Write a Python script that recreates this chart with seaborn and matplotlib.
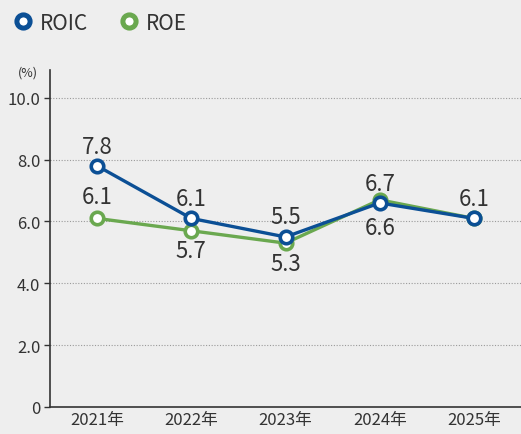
import matplotlib
matplotlib.use("Agg")
import matplotlib.pyplot as plt
import seaborn as sns
import pandas as pd
from matplotlib.lines import Line2D

# データ
years = ["2021年", "2022年", "2023年", "2024年", "2025年"]
roic = [7.8, 6.1, 5.5, 6.6, 6.1]
roe = [6.1, 5.7, 5.3, 6.7, 6.1]
yticks = [0, 2.0, 4.0, 6.0, 8.0, 10.0]
ytick_labels = ["0", "2.0", "4.0", "6.0", "8.0", "10.0"]

# ラベルのずらし量 (pt, 0 = 表示しない)
roic_off = [9, 10, 10, -22, 10]
roe_off = [11, -19, -19, 7, 0]

blue = "#0b4f95"
green = "#6aa84f"
bg = "#eeeeee"
txt = "#333333"

sns.set_theme(style="white")
plt.rcParams["font.family"] = ["Noto Sans CJK JP", "DejaVu Sans"]

df = pd.DataFrame({
    "year": years * 2,
    "value": roic + roe,
    "series": ["ROIC"] * 5 + ["ROE"] * 5,
})
df["x"] = list(range(5)) * 2

fig = plt.figure(figsize=(5.21, 4.35), dpi=100, facecolor=bg)
ax = fig.add_axes([50 / 521, 27 / 435, 471 / 521, 337 / 435])
ax.set_facecolor(bg)

for y in yticks[1:]:
    ax.axhline(y, color="#9a9a9a", lw=0.8, ls=(0, (1, 1.5)), zorder=0)

sns.lineplot(data=df[df.series == "ROE"], x="x", y="value", color=green, lw=2.4,
             marker="o", markersize=9, markerfacecolor="white",
             markeredgecolor=green, markeredgewidth=2.6, ax=ax, zorder=3)
sns.lineplot(data=df[df.series == "ROIC"], x="x", y="value", color=blue, lw=2.4,
             marker="o", markersize=9, markerfacecolor="white",
             markeredgecolor=blue, markeredgewidth=2.6, ax=ax, zorder=4)

for vals, offs in ((roic, roic_off), (roe, roe_off)):
    for i, (v, off) in enumerate(zip(vals, offs)):
        if off == 0:
            continue
        ax.annotate(f"{v:.1f}", (i, v), xytext=(0, off), textcoords="offset points",
                    ha="center", va="baseline", fontsize=16, color=txt)

ax.set_xlim(-0.5, 4.5)
ax.set_ylim(0, 10.9)
ax.set_xticks(range(5))
ax.set_xticklabels(years, fontsize=12, color=txt)
ax.set_yticks(yticks)
ax.set_yticklabels(ytick_labels, fontsize=12, color=txt)
ax.set_xlabel("")
ax.set_ylabel("")
ax.tick_params(axis="x", length=0, pad=3)
ax.tick_params(axis="y", length=4, width=1, color=txt, pad=3, left=True)
for s in ("top", "right"):
    ax.spines[s].set_visible(False)
for s in ("left", "bottom"):
    ax.spines[s].set_color(txt)
    ax.spines[s].set_linewidth(1.2)
if ax.get_legend():
    ax.get_legend().remove()

fig.text(28 / 521, 1 - 73 / 435, "(%)", fontsize=9, color=txt, ha="center", va="center")

handles = [
    Line2D([], [], ls="none", marker="o", markersize=9.5, markerfacecolor="white",
           markeredgecolor=blue, markeredgewidth=3.6, label="ROIC"),
    Line2D([], [], ls="none", marker="o", markersize=9.5, markerfacecolor="white",
           markeredgecolor=green, markeredgewidth=3.6, label="ROE"),
]
fig.legend(handles=handles, loc="upper left", bbox_to_anchor=(0.0, 1.0), ncol=2,
           frameon=False, fontsize=15, handlelength=1.0, handletextpad=0.3,
           columnspacing=1.5, borderaxespad=0.2, labelcolor=txt)

fig.savefig("out.png", dpi=100, facecolor=bg)
